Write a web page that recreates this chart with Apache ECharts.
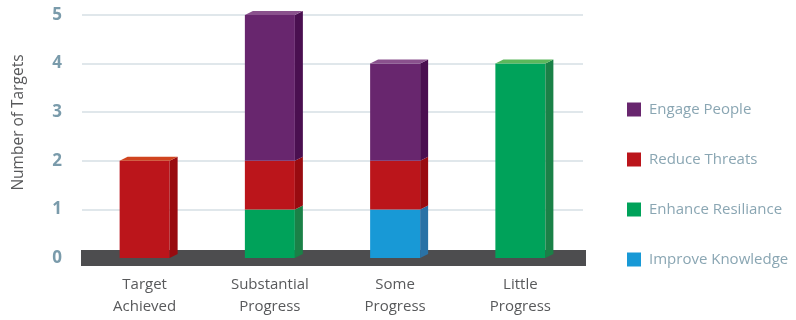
<!DOCTYPE html>
<html><head><meta charset="utf-8">
<script src="https://cdn.jsdelivr.net/npm/echarts@6/dist/echarts.min.js"></script>
<style>html,body{margin:0;padding:0;background:#fff}#c{width:796px;height:320px}</style>
</head><body><div id="c"></div>
<script>
var categories = ['Target\nAchieved', 'Substantial\nProgress', 'Some\nProgress', 'Little\nProgress'];
var seriesNames = ['Improve Knowledge', 'Enhance Resiliance', 'Reduce Threats', 'Engage People'];
var improveKnowledge = [0, 0, 1, 0];
var enhanceResiliance = [0, 1, 0, 4];
var reduceThreats = [2, 1, 1, 0];
var engagePeople = [0, 3, 2, 0];
var yTicks = [0, 1, 2, 3, 4, 5];

var valuesList = [improveKnowledge, enhanceResiliance, reduceThreats, engagePeople];
var colors = [
  {front:'#1899d6', side:'#2a72a6', top:'#4fb3e3'},
  {front:'#00a25a', side:'#1a8147', top:'#5cb85c'},
  {front:'#bb151b', side:'#990b10', top:'#d0441f'},
  {front:'#68266e', side:'#4a0f50', top:'#8a518d'}
];

// stacking
var bases = valuesList.map(function(){return [];});
var totals = categories.map(function(){return 0;});
valuesList.forEach(function(vals, si){
  vals.forEach(function(v, ci){ bases[si][ci] = totals[ci]; totals[ci] += v; });
});

var W = 50, DX = 8, DY = 4;
function makeRender(si){
  return function(params, api){
    var ci = api.value(0), base = api.value(1), val = api.value(2);
    if (!val) return;
    var x = api.coord([ci, 0])[0];
    var yb = api.coord([ci, base])[1];
    var yt = api.coord([ci, base + val])[1];
    var l = x - W/2, r = x + W/2;
    var c = colors[si];
    var children = [
      {type:'rect', shape:{x:l, y:yt, width:W, height:yb-yt}, style:{fill:c.front}},
      {type:'polygon', shape:{points:[[r,yt],[r+DX,yt-DY],[r+DX,yb-DY],[r,yb]]}, style:{fill:c.side}}
    ];
    if (Math.abs(base + val - totals[ci]) < 1e-9) {
      children.push({type:'polygon', shape:{points:[[l,yt],[l+DX,yt-DY],[r+DX,yt-DY],[r,yt]]}, style:{fill:c.top}});
    }
    return {type:'group', children:children};
  };
}

var series = [{
  type:'custom', name:'floor', silent:true, z:1,
  data:[[0]],
  renderItem:function(params, api){
    var cs = params.coordSys;
    var y0 = api.coord([0, 0])[1];
    return {type:'rect', shape:{x:cs.x - 1, y:y0 - 8, width:cs.width + 4, height:16}, style:{fill:'#4d4d4f'}};
  }
}];
valuesList.forEach(function(vals, si){
  series.push({
    type:'custom', name:seriesNames[si], z:2 + si,
    itemStyle:{color:colors[si].front},
    data: vals.map(function(v, ci){ return [ci, bases[si][ci], v]; }),
    renderItem: makeRender(si)
  });
});

var chart = echarts.init(document.getElementById('c'));
chart.setOption({
  animation:false,
  grid:{left:82, right:213, top:15, bottom:62},
  legend:{
    orient:'vertical', left:627, top:102, padding:0,
    data:['Engage People','Reduce Threats','Enhance Resiliance','Improve Knowledge'],
    icon:'rect', itemWidth:14, itemHeight:14, itemGap:35,
    textStyle:{fontFamily:'Open Sans', fontSize:15, color:'#8aa6b3', padding:[0,0,0,3]}
  },
  xAxis:{
    type:'category', data:categories,
    axisLine:{show:false}, axisTick:{show:false}, splitLine:{show:false},
    axisLabel:{margin:16, fontFamily:'Open Sans', fontSize:15, color:'#58595b', lineHeight:22, interval:0}
  },
  yAxis:{
    type:'value', min:yTicks[0], max:yTicks[yTicks.length-1], interval:1,
    name:'Number of Targets', nameLocation:'middle', nameRotate:90, nameGap:55,
    nameTextStyle:{fontFamily:'Open Sans', fontSize:15.5, color:'#58595b', padding:[0,0,0,28]},
    axisLine:{show:false}, axisTick:{show:false},
    axisLabel:{margin:20, fontFamily:'Open Sans', fontWeight:'bold', fontSize:17, color:'#7a9bab'},
    splitLine:{lineStyle:{color:'#e0e7eb', width:2}}
  },
  series:series
});
</script></body></html>
